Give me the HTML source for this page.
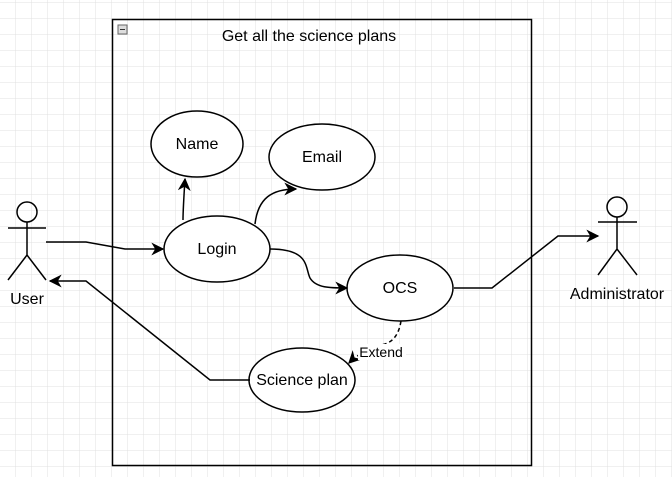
<!DOCTYPE html>
<html><head><style>
html,body{margin:0;padding:0;background:#fff;}
svg{display:block;}
text{font-family:"Liberation Sans",Arial,sans-serif;fill:#000;}
</style></head><body>
<svg width="672" height="477" viewBox="0 0 672 477" xmlns="http://www.w3.org/2000/svg">
<defs>
<pattern id="g" width="16" height="16" patternUnits="userSpaceOnUse" x="0" y="3">
<path d="M16 0V16M0 16H16" fill="none" stroke="#e0e0e0" stroke-width="1"/>
</pattern>
<marker id="a" viewBox="0 0 10 10" refX="9" refY="5" markerWidth="13" markerHeight="13" orient="auto" markerUnits="userSpaceOnUse">
<path d="M0,0 L10,5 L0,10 L3,5 Z" fill="#000"/>
</marker>
</defs>
<rect width="672" height="477" fill="#fff"/>
<rect width="672" height="477" fill="url(#g)"/>
<rect x="112.5" y="19.5" width="419" height="446" fill="#fff" fill-opacity="0" stroke="#000" stroke-width="1.5"/>
<rect x="118" y="25" width="9" height="9" fill="#ddd" stroke="#666" stroke-width="1"/>
<line x1="120" y1="29.5" x2="125" y2="29.5" stroke="#333"/>
<text x="309" y="41" font-size="16" text-anchor="middle">Get all the science plans</text>

<g fill="#fff" stroke="#000" stroke-width="1.5">
<ellipse cx="197" cy="144" rx="46" ry="33"/>
<ellipse cx="322" cy="157" rx="53" ry="33"/>
<ellipse cx="217" cy="249" rx="53" ry="33"/>
<ellipse cx="400" cy="288" rx="53" ry="33"/>
<ellipse cx="302" cy="380" rx="53" ry="32"/>
</g>
<g font-size="16" text-anchor="middle">
<text x="197" y="149">Name</text>
<text x="322" y="162">Email</text>
<text x="217" y="254">Login</text>
<text x="400" y="293">OCS</text>
<text x="302" y="385">Science plan</text>
</g>

<g fill="none" stroke="#000" stroke-width="1.5">
<path d="M46 242 H86 L125 249 H163" marker-end="url(#a)"/>
<path d="M183 220 Q183 210 185 179" marker-end="url(#a)"/>
<path d="M255 224 C258 198 272 189 296 189" marker-end="url(#a)"/>
<path d="M270 249 C310 249 305 268 310 278 C316 288 330 288 347 288" marker-end="url(#a)"/>
<path d="M454 288 H492 L558 236 H598" marker-end="url(#a)"/>
<path d="M250 380 H210 L86 281 H50" marker-end="url(#a)"/>
<path d="M401 321 Q398 340 385 344 Q362 350 349 363" stroke-dasharray="4 3" marker-end="url(#a)"/>
</g>
<rect x="358" y="344" width="48" height="16" fill="#fff"/>
<text x="381" y="357" font-size="14" text-anchor="middle">Extend</text>

<g fill="none" stroke="#000" stroke-width="1.5">
<circle cx="27" cy="212" r="10"/>
<path d="M27 222 V255 M8 228 H46 M8 280 L27 255 L46 280"/>
<circle cx="617" cy="207" r="10"/>
<path d="M617 217 V249 M598 222 H637 M598 275 L617 249 L637 275"/>
</g>
<g font-size="16" text-anchor="middle">
<text x="27" y="304">User</text>
<text x="617" y="299">Administrator</text>
</g>
</svg>
</body></html>
